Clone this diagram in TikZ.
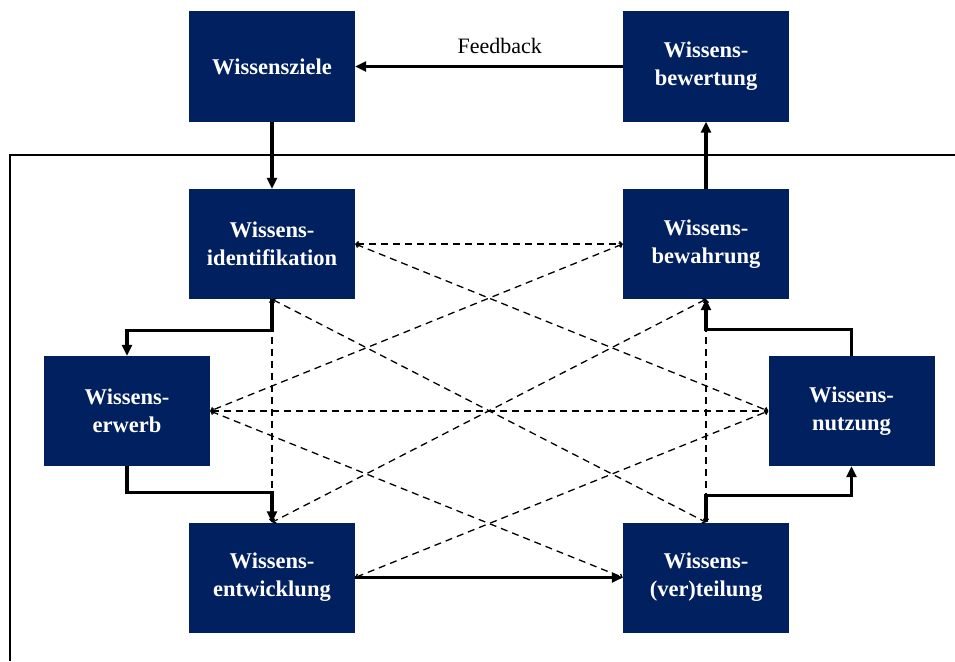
\documentclass[tikz,border=0pt]{standalone}
\usepackage{fontspec}
\setmainfont{Liberation Serif}
\usetikzlibrary{arrows.meta}
\definecolor{navy}{RGB}{0,32,96}
\tikzset{
  box/.style={fill=navy, text=white, minimum width=166pt, minimum height=110pt, inner sep=0pt,
    align=center, font=\fontsize{22.5}{28}\selectfont\bfseries},
  flow/.style={line width=3.2pt, -{Triangle[length=11pt,width=10pt]}},
  link/.style={line width=1.3pt, dash pattern=on 7pt off 5pt,
    {Straight Barb[length=2.5pt,width=5pt]}-{Straight Barb[length=2.5pt,width=5pt]}},
  frame/.style={line width=1.4pt}
}
\begin{document}
\begin{tikzpicture}[x=1pt,y=-1pt]
\useasboundingbox (0,0) rectangle (955,661);
\fill[white] (0,0) rectangle (955,661);
% frame
\draw[frame] (10,661) -- (10,155) -- (955,155);
% boxes
\node[box] (ziele) at (272,66.5) {\raisebox{-2pt}{Wissensziele}};
\node[box] (bewert) at (706,66.5) {Wissens-\\bewertung};
\node[box] (ident) at (272,244) {Wissens-\\identifikation};
\node[box] (bewahr) at (706,244) {Wissens-\\bewahrung};
\node[box] (erwerb) at (127,411) {Wissens-\\erwerb};
\node[box] (nutz) at (851.5,411) {Wissens-\\nutzung};
\node[box] (entw) at (272,577.5) {Wissens-\\entwicklung};
\node[box] (vert) at (706,577.5) {Wissens-\\(ver)teilung};
% dashed links
\draw[link] (ident.east) -- (bewahr.west);
\draw[link] (ident.east) -- (nutz.west);
\draw[link] (bewahr.west) -- (erwerb.east);
\draw[link] (ident.south) -- (vert.north);
\draw[link] (bewahr.south) -- (entw.north);
\draw[link] (erwerb.east) -- (nutz.west);
\draw[link] (erwerb.east) -- (vert.west);
\draw[link] (entw.east) -- (nutz.west);
\draw[link] (ident.south) -- (entw.north);
\draw[link] (bewahr.south) -- (vert.north);
% solid flows
\draw[flow] (bewert.west) -- node[pos=0.46, above=8pt, font=\fontsize{22}{26}\selectfont] (fb) {Feedback} (ziele.east);
\draw[flow] (ziele.south) -- (ident.north);
\draw[flow] (bewahr.north) -- (bewert.south);
\draw[flow] (entw.east) -- (vert.west);
\draw[flow] (ident.south) -- ++(0,31) -| (erwerb.north);
\draw[flow] (erwerb.south) -- ++(0,26) -| (entw.north);
\draw[flow] (vert.north) -- ++(0,-27) -| (nutz.south);
\draw[flow] (nutz.north) -- ++(0,-26) -| (bewahr.south);
\end{tikzpicture}
\end{document}
